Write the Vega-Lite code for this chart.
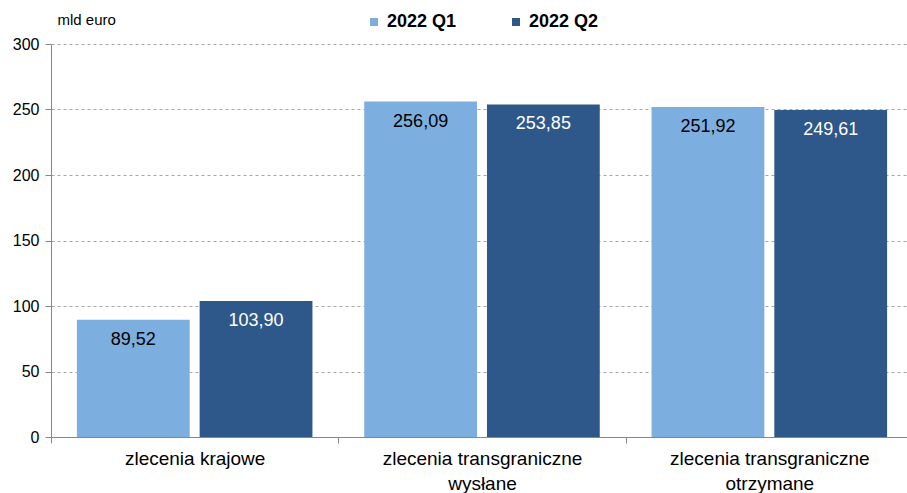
{
  "$schema": "https://vega.github.io/schema/vega-lite/v6.json",
  "width": 856,
  "height": 393,
  "autosize": "none",
  "padding": {"left": 51, "top": 44, "right": 0, "bottom": 56},
  "background": "white",
  "config": {
    "locale": {"number": {"decimal": ",", "thousands": " ", "grouping": [3], "currency": ["", " €"]}},
    "view": {"stroke": null},
    "font": "Liberation Sans"
  },
  "data": {
    "values": [
      {"cat": "zlecenia krajowe", "q": "2022 Q1", "v": 89.52},
      {"cat": "zlecenia krajowe", "q": "2022 Q2", "v": 103.90},
      {"cat": "zlecenia transgraniczne|wysłane", "q": "2022 Q1", "v": 256.09},
      {"cat": "zlecenia transgraniczne|wysłane", "q": "2022 Q2", "v": 253.85},
      {"cat": "zlecenia transgraniczne|otrzymane", "q": "2022 Q1", "v": 251.92},
      {"cat": "zlecenia transgraniczne|otrzymane", "q": "2022 Q2", "v": 249.61}
    ]
  },
  "encoding": {
    "x": {
      "field": "cat", "type": "nominal", "sort": null,
      "scale": {"paddingInner": 0, "paddingOuter": 0, "range": [0, 862]},
      "axis": {
        "title": null, "labelAngle": 0, "labelExpr": "split(datum.label, '|')",
        "labelFontSize": 19, "labelColor": "#000000", "labelBaseline": "top",
        "labelLineHeight": 25, "labelPadding": 6, "labelFont": "Liberation Sans",
        "labelLimit": 0,
        "tickBand": "extent", "tickSize": 6, "tickColor": "#868686",
        "domainColor": "#868686", "grid": false
      }
    },
    "xOffset": {
      "field": "q", "type": "nominal",
      "scale": {"paddingInner": 0.081, "paddingOuter": 0.211}
    },
    "y": {
      "field": "v", "type": "quantitative",
      "scale": {"domain": [0, 300], "nice": false},
      "axis": {
        "values": [0, 50, 100, 150, 200, 250, 300],
        "title": "mld euro", "titleAngle": 0, "titleAlign": "left", "titleBaseline": "alphabetic",
        "titleX": 6, "titleY": -20, "titleFontSize": 15, "titleFontWeight": "normal", "titleColor": "#000000",
        "labelFontSize": 16, "labelColor": "#000000", "labelPadding": 6,
        "tickSize": 6, "tickColor": "#868686", "domainColor": "#868686",
        "gridColor": "#A6A6A6", "gridDash": [3, 3], "gridWidth": 1
      }
    }
  },
  "layer": [
    {
      "mark": {"type": "bar"},
      "encoding": {
        "color": {
          "field": "q", "type": "nominal",
          "scale": {"domain": ["2022 Q1", "2022 Q2"], "range": ["#7DAEE0", "#2E588A"]},
          "legend": {
            "title": null, "orient": "none", "direction": "horizontal",
            "legendX": 314, "legendY": -31,
            "symbolType": "square", "symbolSize": 64, "symbolStrokeWidth": 0,
            "labelFontSize": 18, "labelFontWeight": "bold", "labelColor": "#000000",
            "labelOffset": 4, "columnPadding": 50
          }
        }
      }
    },
    {
      "mark": {"type": "text", "baseline": "middle", "dy": 20, "fontSize": 18},
      "encoding": {
        "text": {"field": "v", "type": "quantitative", "format": ".2f"},
        "color": {"condition": {"test": "datum.q == '2022 Q2'", "value": "#FFFFFF"}, "value": "#000000"}
      }
    }
  ]
}
